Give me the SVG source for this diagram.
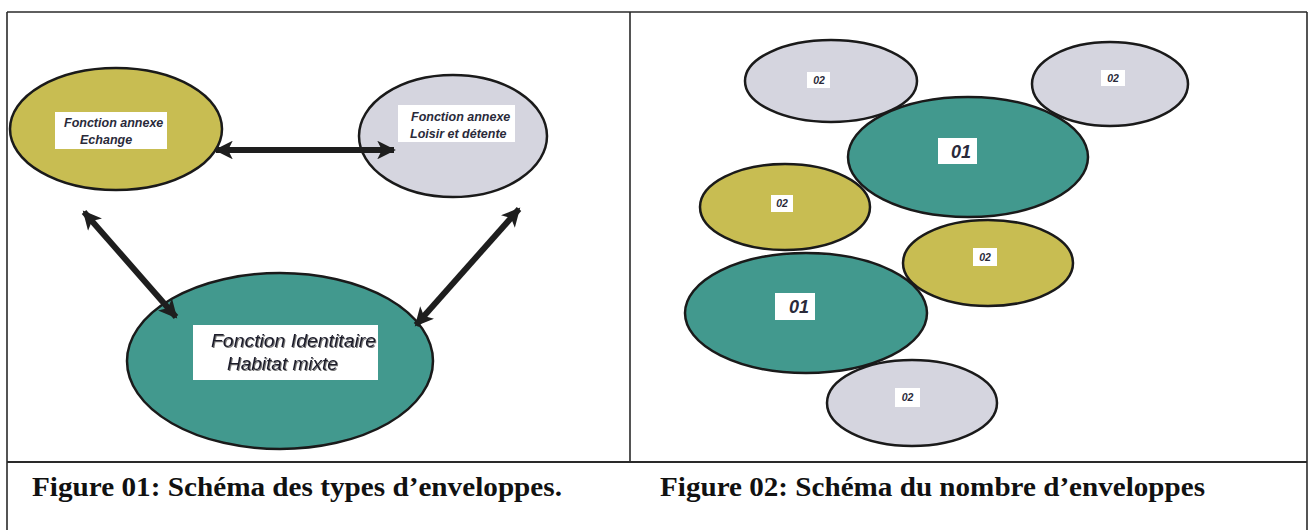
<svg xmlns="http://www.w3.org/2000/svg" width="1310" height="530" viewBox="0 0 1310 530">
<style>
.frame{stroke:#2a2a2a;stroke-width:1.6;fill:none}
.olive{fill:#c8bd52;stroke:#1a1a1a;stroke-width:2.5}
.grey{fill:#d5d5df;stroke:#1a1a1a;stroke-width:2.5}
.teal{fill:#42998e;stroke:#1a1a1a;stroke-width:2.5}
.box{fill:#ffffff}
.lbl{font-family:"Liberation Sans",Arial,sans-serif;font-style:italic;font-weight:bold;fill:#2a2a3a}
.big{font-weight:normal;fill:#1a1a2a;filter:url(#sh)}
.cap{font-family:"Liberation Serif","Times New Roman",serif;font-weight:bold;font-size:27px;fill:#111}
.conn{stroke:#1e1e1e;stroke-width:6;fill:none}
</style>
<defs>
<marker id="ah" viewBox="0 0 10 10" refX="9" refY="5" markerWidth="3.3" markerHeight="3.1" orient="auto-start-reverse" markerUnits="strokeWidth">
<path d="M0,0 L10,5 L0,10 L2.5,5 Z" fill="#1e1e1e"/>
</marker>
<filter id="sh" x="-5%" y="-20%" width="110%" height="140%">
<feDropShadow dx="1" dy="1" stdDeviation="0.4" flood-color="#555" flood-opacity="0.8"/>
</filter>
</defs>
<g id="frame">
<line class="frame" x1="7" y1="12" x2="1307" y2="12"/>
<line class="frame" x1="7" y1="12" x2="7" y2="530"/>
<line class="frame" x1="1307" y1="12" x2="1307" y2="530"/>
<line class="frame" x1="630" y1="12" x2="630" y2="462"/>
<line class="frame" x1="7" y1="462" x2="1307" y2="462" style="stroke-width:2.2"/>
</g>
<g id="node-echange">
<ellipse class="olive" cx="116" cy="129" rx="106" ry="61"/>
<rect class="box" x="55" y="112" width="112" height="37"/>
<text class="lbl" font-size="12.5" x="64" y="127">Fonction annexe</text>
<text class="lbl" font-size="12.5" x="80" y="144">Echange</text>
</g>
<g id="node-loisir">
<ellipse class="grey" cx="453" cy="136" rx="94" ry="61"/>
<rect class="box" x="398" y="105" width="117" height="37"/>
<text class="lbl" font-size="12.5" x="411" y="121">Fonction annexe</text>
<text class="lbl" font-size="12.5" x="410" y="138">Loisir et détente</text>
</g>
<g id="node-identitaire">
<ellipse class="teal" cx="280" cy="361" rx="153" ry="88"/>
<rect class="box" x="193" y="325" width="185" height="55"/>
<text class="lbl big" font-size="19" x="211" y="347" textLength="165" lengthAdjust="spacingAndGlyphs">Fonction Identitaire</text>
<text class="lbl big" font-size="19" x="227" y="370">Habitat mixte</text>
</g>
<g id="node-r1">
<ellipse class="grey" cx="831" cy="81" rx="86" ry="41"/>
<rect class="box" x="807" y="72" width="23" height="16"/>
<text class="lbl" font-size="10.5" x="819" y="84" text-anchor="middle">02</text>
</g>
<g id="node-r2">
<ellipse class="grey" cx="1110" cy="84" rx="78" ry="42"/>
<rect class="box" x="1101" y="70" width="24" height="16"/>
<text class="lbl" font-size="10.5" x="1113" y="82" text-anchor="middle">02</text>
</g>
<g id="node-r3">
<ellipse class="teal" cx="968" cy="157" rx="120" ry="60"/>
<rect class="box" x="938" y="138" width="39" height="26"/>
<text class="lbl" font-size="18" x="961" y="158" text-anchor="middle">01</text>
</g>
<g id="node-r4">
<ellipse class="olive" cx="785" cy="207" rx="85" ry="43"/>
<rect class="box" x="771" y="195" width="22" height="17"/>
<text class="lbl" font-size="10.5" x="782" y="207" text-anchor="middle">02</text>
</g>
<g id="node-r5">
<ellipse class="olive" cx="988" cy="263" rx="85" ry="43"/>
<rect class="box" x="973" y="248" width="24" height="18"/>
<text class="lbl" font-size="10.5" x="985" y="261" text-anchor="middle">02</text>
</g>
<g id="node-r6">
<ellipse class="teal" cx="806" cy="313" rx="121" ry="60"/>
<rect class="box" x="775" y="293" width="40" height="27"/>
<text class="lbl" font-size="18" x="799" y="313" text-anchor="middle">01</text>
</g>
<g id="node-r7">
<ellipse class="grey" cx="912" cy="403" rx="85" ry="43"/>
<rect class="box" x="895" y="388" width="25" height="19"/>
<text class="lbl" font-size="10.5" x="907.5" y="401" text-anchor="middle">02</text>
</g>
<g id="connectors">
<line class="conn" x1="216" y1="150" x2="394" y2="150" marker-start="url(#ah)" marker-end="url(#ah)"/>
<line class="conn" x1="84" y1="212" x2="176" y2="317" marker-start="url(#ah)" marker-end="url(#ah)"/>
<line class="conn" x1="519" y1="209" x2="416" y2="325" marker-start="url(#ah)" marker-end="url(#ah)"/>
</g>
<g id="captions">
<text class="cap" x="32" y="496" textLength="530" lengthAdjust="spacingAndGlyphs">Figure 01: Schéma des types d’enveloppes.</text>
<text class="cap" x="660" y="496" textLength="545" lengthAdjust="spacingAndGlyphs">Figure 02: Schéma du nombre d’enveloppes</text>
</g>
</svg>
